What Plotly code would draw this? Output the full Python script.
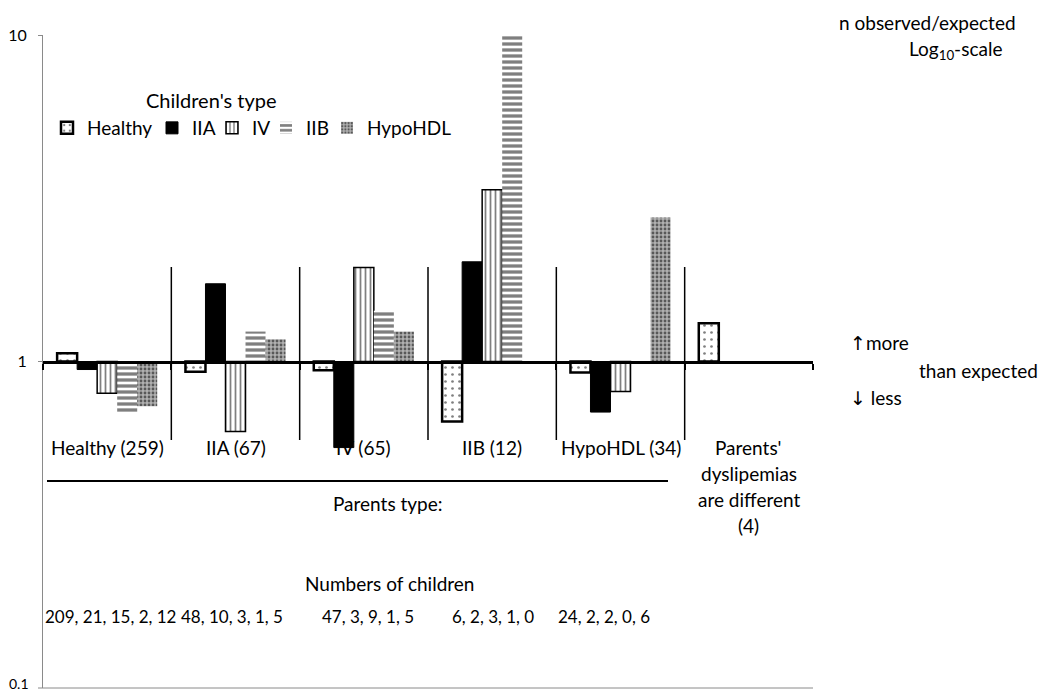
import plotly.graph_objects as go

# ---------------- data ----------------
parent_groups = ["Healthy (259)", "IIA (67)", "IV (65)", "IIB (12)", "HypoHDL (34)", "Different (4)"]
child_types = ["Healthy", "IIA", "IV", "IIB", "HypoHDL"]

ratio_healthy = [1.06, 0.93, 0.94, 0.655, 0.925, 1.31]
ratio_iia = [0.945, 1.73, 0.545, 2.02, 0.70, None]
ratio_iv = [0.80, 0.61, 1.94, 3.36, 0.81, None]
ratio_iib = [0.70, 1.235, 1.43, 10.0, None, None]
ratio_hypohdl = [0.73, 1.17, 1.235, None, 2.76, None]

children_counts = ["209, 21, 15, 2, 12", "48, 10, 3, 1, 5", "47, 3, 9, 1, 5",
                   "6, 2, 3, 1, 0", "24, 2, 2, 0, 6"]

series = [ratio_healthy, ratio_iia, ratio_iv, ratio_iib, ratio_hypohdl]

# ---------------- styles ----------------
FONT = "Lato"
W, H = 1042, 693
L, R, T, B = 43, 229, 35, 5
PW, PH = W - L - R, H - T - B

def px(x):
    return (x - L) / PW

def py(y):
    return (H - B - y) / PH

styles = [
    dict(color="white", line=dict(color="black", width=2.5),
         pattern=dict(shape=".", fgcolor="black", bgcolor="white", size=7, solidity=0.12)),
    dict(color="black", line=dict(color="black", width=1)),
    dict(color="white", line=dict(color="black", width=1.5),
         pattern=dict(shape="|", fgcolor="black", bgcolor="white", size=5, solidity=0.35)),
    dict(color="white", line=dict(color="black", width=0),
         pattern=dict(shape="-", fgcolor="black", bgcolor="white", size=6, solidity=0.55)),
    dict(color="#b0b0b0", line=dict(color="black", width=0),
         pattern=dict(shape=".", fgcolor="black", bgcolor="#b0b0b0", size=4, solidity=0.4)),
]

legend_names = ["legend", "legend2", "legend3", "legend4", "legend5"]
legend_text_x = [85, 190, 250, 304, 365]   # where each legend label starts (px)
LEG_Y = 128

fig = go.Figure()
for name, vals, st, lg in zip(child_types, series, styles, legend_names):
    fig.add_trace(go.Bar(
        x=parent_groups,
        y=[(v - 1) if v is not None else None for v in vals],
        base=1,
        name=name,
        marker=st,
        legend=lg,
    ))

annotations = []

def note(x, y, text, xref="paper", xanchor="center", size=19):
    annotations.append(dict(x=x, y=y, xref=xref, yref="paper", text=text, showarrow=False,
                            xanchor=xanchor, yanchor="middle",
                            font=dict(color="black", size=size, family=FONT)))

# legend title
note(px(211), py(100), "Children's type", size=20)
# category labels
for i, lab in enumerate(parent_groups[:5]):
    note(i, py(448), lab, xref="x")
# different-parents label
for txt, yy in [("Parents'", 448), ("dyslipemias", 473), ("are different", 499), ("(4)", 525)]:
    note(5, py(yy), txt, xref="x")
note(px(388), py(503), "Parents type:")
note(px(389), py(583), "Numbers of children")
count_x = [110, 232, 368, 493, 604]
for cx, txt in zip(count_x, children_counts):
    note(px(cx), py(616), txt, size=17)
# right-side texts
ARW = "<span style='font-family:DejaVu Sans'>%s</span>"
note(px(1018), py(22), "n observed/expected", xanchor="right")
note(px(1004), py(50), "Log<sub>10</sub>-scale", xanchor="right")
note(px(848), py(342), (ARW % "↑") + "more", xanchor="left")
note(px(917), py(370), "than expected", xanchor="left")
note(px(848), py(397), (ARW % "↓") + " less", xanchor="left")
# bottom y tick label
note(px(31), py(683), "0.1", xanchor="right", size=14)

shapes = []
# vertical separators between parent groups
for k in range(5):
    shapes.append(dict(type="line", xref="x", yref="paper", x0=k + 0.5, x1=k + 0.5,
                       y0=py(267), y1=py(440), line=dict(color="black", width=1.5)))
# underline above "Parents type:"
shapes.append(dict(type="line", xref="paper", yref="paper", x0=px(47), x1=px(668),
                   y0=py(481), y1=py(481), line=dict(color="black", width=2)))
# bottom (0.1) gridline
shapes.append(dict(type="line", xref="paper", yref="paper", x0=px(38), x1=1,
                   y0=0, y1=0, line=dict(color="#8a8a8a", width=1)))

layout_legends = {}
for lg, tx in zip(legend_names, legend_text_x):
    layout_legends[lg] = dict(x=px(tx - 38), y=py(LEG_Y), xanchor="left", yanchor="middle",
                              orientation="h", font=dict(size=19, family=FONT, color="black"),
                              bgcolor="rgba(0,0,0,0)", itemwidth=30)

fig.update_layout(
    width=W, height=H,
    margin=dict(l=L, r=R, t=T, b=B),
    plot_bgcolor="white", paper_bgcolor="white",
    font=dict(family=FONT, color="black", size=19),
    barmode="group", bargap=0.22, bargroupgap=0,
    showlegend=True,
    annotations=annotations,
    shapes=shapes,
    xaxis=dict(type="category", range=[-0.5, 5.5], showticklabels=False, showgrid=False,
               tickson="boundaries", ticks="outside", ticklen=6, tickwidth=2, tickcolor="black",
               showline=True, linecolor="black", linewidth=3,
               anchor="free", position=0.5, zeroline=False, layer="above traces"),
    yaxis=dict(type="log", range=[-1, 1], tickvals=[1, 10], ticktext=["1", "10"],
               tickfont=dict(size=16), showgrid=True, gridcolor="#8a8a8a", gridwidth=1,
               showline=True, linecolor="#8a8a8a", linewidth=1, ticklabelstandoff=8,
               ticks="outside", ticklen=4, tickcolor="#8a8a8a", zeroline=False),
    **layout_legends,
)

fig.write_html("out.html")
